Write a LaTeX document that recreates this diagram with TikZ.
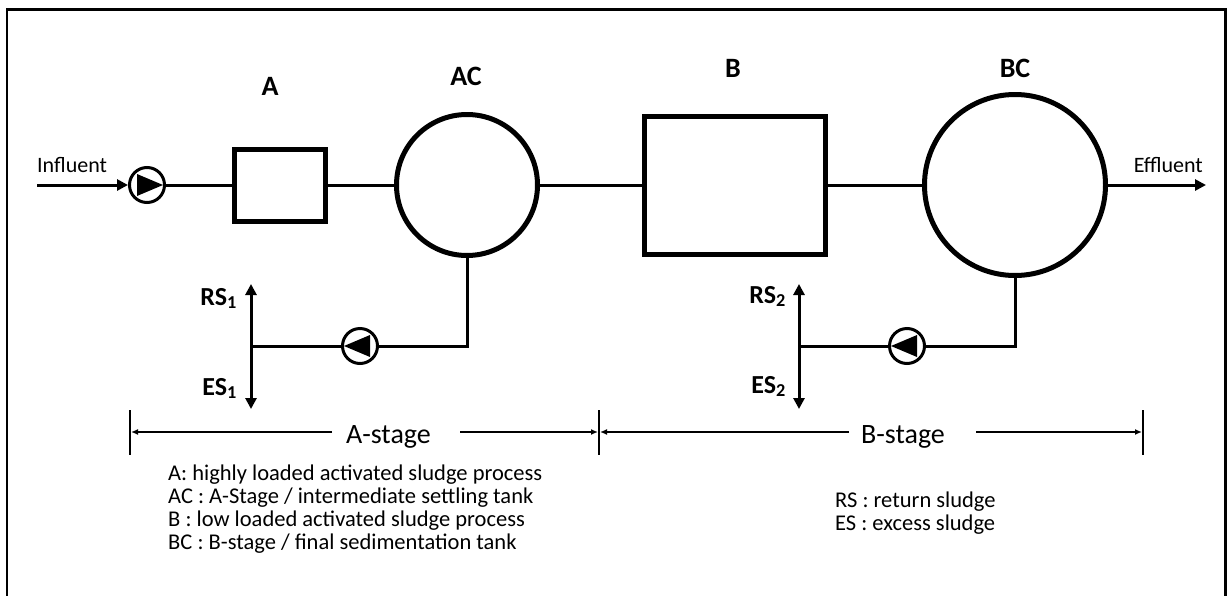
\documentclass[tikz,border=0pt]{standalone}
\usepackage{fontspec}
\setmainfont{Carlito}
\usetikzlibrary{arrows.meta,positioning}
\tikzset{
  pipe/.style={line width=3pt},
  flowline/.style={line width=3pt,-{Triangle[length=11pt,width=11pt]}},
  splitline/.style={line width=3pt,{Triangle[length=11pt,width=11pt]}-{Triangle[length=11pt,width=11pt]}},
  tankbox/.style={rectangle, draw, line width=5pt, inner sep=0pt},
  settler/.style={circle, draw, line width=5pt, inner sep=0pt},
  pump/.style={circle, draw, line width=3pt, minimum size=35pt, inner sep=0pt},
  pumpfwd/.style={pump,
    path picture={\fill (path picture bounding box.center) ++(-10,-11) -- ++(26,11) -- ++(-26,11) -- cycle;}},
  pumpback/.style={pump,
    path picture={\fill (path picture bounding box.center) ++(10,-11) -- ++(-26,11) -- ++(26,11) -- cycle;}},
  tanklabel/.style={font=\fontsize{28}{32}\selectfont\bfseries, inner sep=0pt, anchor=base},
  sludgelabel/.style={font=\fontsize{26}{30}\selectfont\bfseries, inner sep=0pt, anchor=base east},
  streamlabel/.style={font=\fontsize{22}{26}\selectfont, inner sep=0pt},
  stagelabel/.style={font=\fontsize{28}{32}\selectfont, inner sep=0pt, anchor=base},
  legend/.style={font=\fontsize{22.5}{23}\selectfont, align=left, inner sep=0pt, anchor=north west},
  stagetick/.style={line width=2pt},
  dimline/.style={line width=1.5pt,-{Latex[length=7pt,width=6pt]}}
}
\begin{document}
\begin{tikzpicture}[x=1pt,y=-1pt]
  \useasboundingbox (0,0) rectangle (1227,595);
  \draw[line width=2.5pt] (7,620) -- (7,9.5) -- (1225.5,9.5) -- (1225.5,620);
  % process line
  \node[pumpfwd] (p1) at (147,185) {};
  \node[tankbox, minimum width=91pt, minimum height=72pt] (A) at (280,185) {};
  \node[settler, minimum size=141pt] (AC) at (467,185) {};
  \node[tankbox, minimum width=181pt, minimum height=138pt] (B) at (734.5,185) {};
  \node[settler, minimum size=181pt] (BC) at (1015,185) {};
  \node[tanklabel] (lA) at (270,95) {A};
  \node[tanklabel] (lAC) at (466,85) {AC};
  \node[tanklabel] (lB) at (733,77) {B};
  \node[tanklabel] (lBC) at (1015,77) {BC};
  \coordinate (inflow) at (37,185);
  \coordinate (outflow) at (1206,185);
  \node[streamlabel, anchor=base west] (tin) at (37,172) {Influent};
  \node[streamlabel, anchor=base east] (tout) at (1203,172) {Effluent};
  \draw[flowline] (inflow) -- (p1.west);
  \draw[pipe] (p1) -- (A) -- (AC) -- (B) -- (BC);
  \draw[flowline] (BC) -- (outflow);
  % sludge return
  \node[pumpback] (p2) at (360,346) {};
  \node[pumpback] (p3) at (907,346) {};
  \coordinate (j1) at (251,346);
  \coordinate (j2) at (799,346);
  \coordinate (rs1) at (251,284);
  \coordinate (es1) at (251,409);
  \coordinate (rs2) at (799,284);
  \coordinate (es2) at (799,409);
  \draw[pipe] (AC.south) |- (p2.east);
  \draw[pipe] (p2.west) -- (j1);
  \draw[pipe] (BC.south) |- (p3.east);
  \draw[pipe] (p3.west) -- (j2);
  \draw[splitline] (rs1) -- (es1);
  \draw[splitline] (rs2) -- (es2);
  \node[sludgelabel] (lrs1) at (237,305) {RS\textsubscript{1}};
  \node[sludgelabel] (les1) at (237,395) {ES\textsubscript{1}};
  \node[sludgelabel] (lrs2) at (786,303) {RS\textsubscript{2}};
  \node[sludgelabel] (les2) at (786,393) {ES\textsubscript{2}};
  % stages
  \foreach \x in {130,599,1143}
    \draw[stagetick] (\x,410) -- (\x,455);
  \coordinate (t1) at (131,432);
  \coordinate (t2l) at (598,432);
  \coordinate (t2r) at (600,432);
  \coordinate (t3) at (1142,432);
  \coordinate (a1) at (332,432);
  \coordinate (a2) at (460,432);
  \coordinate (b1) at (849,432);
  \coordinate (b2) at (976,432);
  \node[stagelabel] (sA) at (388.5,443) {A-stage};
  \node[stagelabel] (sB) at (903,443) {B-stage};
  \draw[dimline] (a1) -- (t1);
  \draw[dimline] (a2) -- (t2l);
  \draw[dimline] (b1) -- (t2r);
  \draw[dimline] (b2) -- (t3);
  % legend
  \node[legend] (key) at (168,465) {A: highly loaded activated sludge process\\
    AC : A-Stage / intermediate settling tank\\
    B : low loaded activated sludge process\\
    BC : B-stage / final sedimentation tank};
  \node[legend] (abbr) at (835,492) {RS : return sludge\\ES : excess sludge};
\end{tikzpicture}
\end{document}
